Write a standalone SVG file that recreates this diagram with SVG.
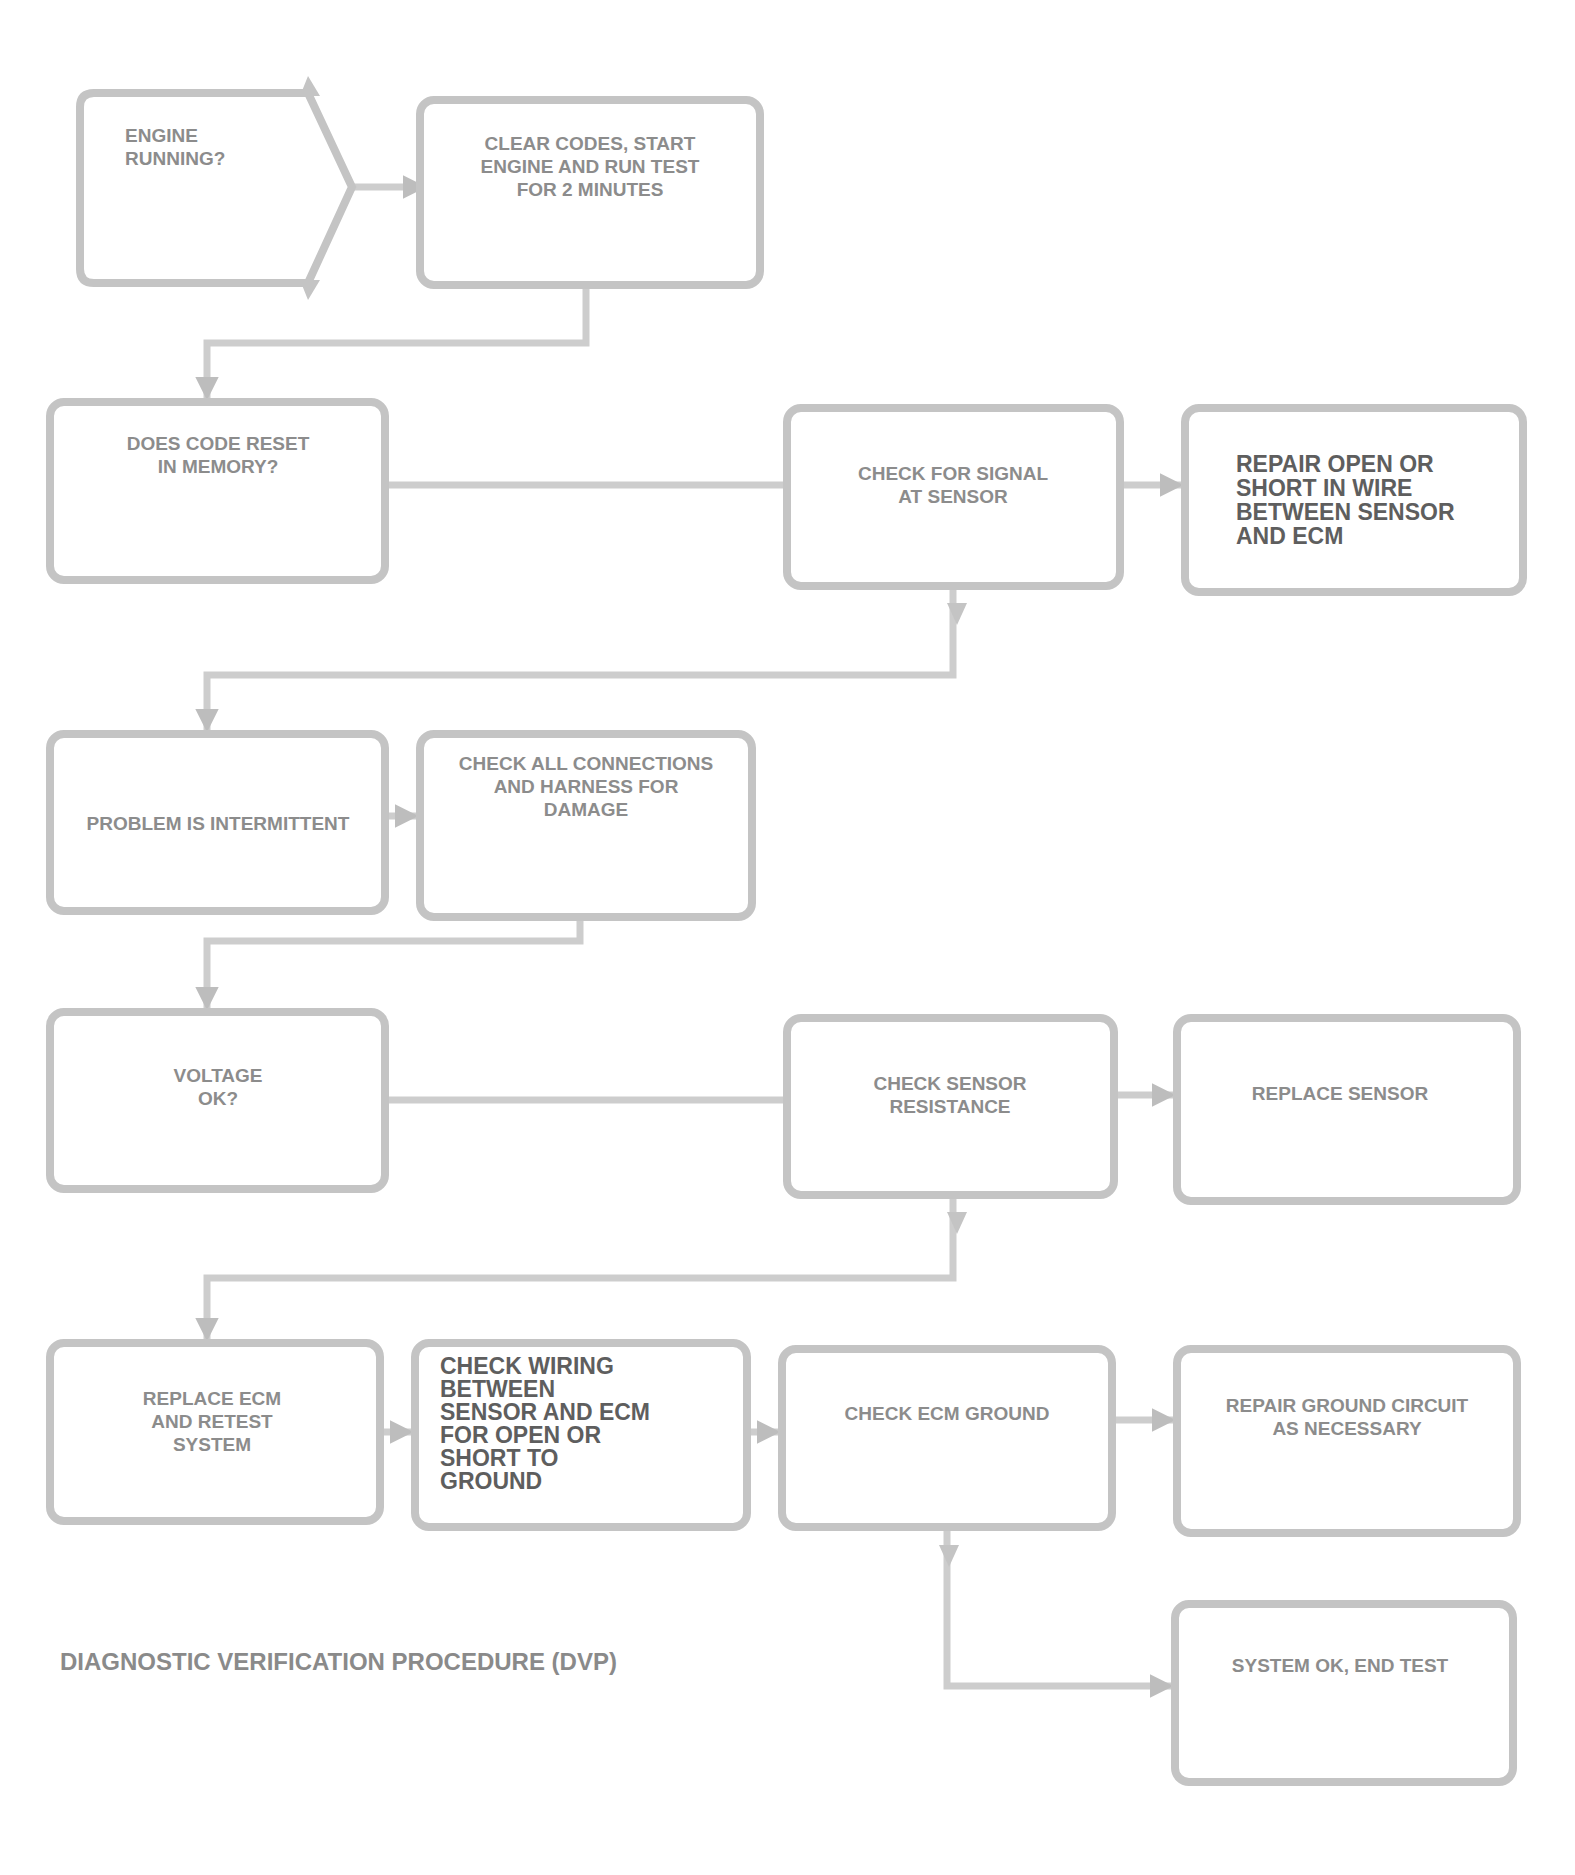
<svg xmlns="http://www.w3.org/2000/svg" width="1575" height="1875" viewBox="0 0 1575 1875">
<style>
.box{fill:#ffffff;stroke:#c4c4c4;stroke-width:8}
.ln{fill:none;stroke:#cdcdcd;stroke-width:7}
.t{font-family:"Liberation Sans",Arial,sans-serif;font-weight:bold;font-size:19px;fill:#8c8c8c;text-anchor:middle}
.tl{font-family:"Liberation Sans",Arial,sans-serif;font-weight:bold;font-size:19px;fill:#8c8c8c}
.td{font-family:"Liberation Sans",Arial,sans-serif;font-weight:bold;font-size:23px;fill:#5e5e5e}
.cap{font-family:"Liberation Sans",Arial,sans-serif;font-weight:bold;font-size:24px;fill:#8a8a8a}
</style>
<defs>
<marker id="ah" viewBox="0 0 10 10" refX="9" refY="5" markerWidth="3.4" markerHeight="3.4" orient="auto">
<path d="M0,0 L10,5 L0,10 z" fill="#bdbdbd"/>
</marker>
</defs>
<rect width="1575" height="1875" fill="#ffffff"/>
<g id="connectors">
<path class="ln" d="M350,187 H424" marker-end="url(#ah)"/>
<path class="ln" d="M586,285 V343 H207 V398" marker-end="url(#ah)"/>
<path class="ln" d="M385,485 H787"/>
<path class="ln" d="M1120,485 H1181" marker-end="url(#ah)"/>
<path class="ln" d="M953,586 V675 H207 V730" marker-end="url(#ah)"/>
<path class="ln" d="M385,816 H416" marker-end="url(#ah)"/>
<path class="ln" d="M580,917 V941 H207 V1008" marker-end="url(#ah)"/>
<path class="ln" d="M385,1100 H787"/>
<path class="ln" d="M1114,1095 H1173" marker-end="url(#ah)"/>
<path class="ln" d="M953,1195 V1278 H207 V1339" marker-end="url(#ah)"/>
<path class="ln" d="M380,1432 H411" marker-end="url(#ah)"/>
<path class="ln" d="M747,1432 H778" marker-end="url(#ah)"/>
<path class="ln" d="M1112,1420 H1173" marker-end="url(#ah)"/>
<path class="ln" d="M947,1527 V1686 H1171" marker-end="url(#ah)"/>
<path d="M947,603 L967,603 L957,625 z" fill="#c4c4c4"/>
<path d="M947,1212 L967,1212 L957,1234 z" fill="#c4c4c4"/>
<path d="M939,1545 L959,1545 L949,1567 z" fill="#c4c4c4"/>
</g>
<g id="nA">
<path class="box" d="M94,93 H308 L352,187 L308,283 H94 Q80,283 80,269 V107 Q80,93 94,93 z"/>
<path d="M308,76 L320,96 L300,96 z" fill="#c4c4c4"/>
<path d="M308,300 L320,280 L300,280 z" fill="#c4c4c4"/>
<text class="tl" x="125" y="142">ENGINE</text>
<text class="tl" x="125" y="165">RUNNING?</text>
</g>
<g id="nB">
<rect class="box" x="420" y="100" width="340" height="185" rx="14"/>
<text class="t" x="590" y="150">CLEAR CODES, START</text>
<text class="t" x="590" y="173">ENGINE AND RUN TEST</text>
<text class="t" x="590" y="196">FOR 2 MINUTES</text>
</g>
<g id="nC">
<rect class="box" x="50" y="402" width="335" height="178" rx="14"/>
<text class="t" x="218" y="450">DOES CODE RESET</text>
<text class="t" x="218" y="473">IN MEMORY?</text>
</g>
<g id="nD">
<rect class="box" x="787" y="408" width="333" height="178" rx="14"/>
<text class="t" x="953" y="480">CHECK FOR SIGNAL</text>
<text class="t" x="953" y="503">AT SENSOR</text>
</g>
<g id="nE">
<rect class="box" x="1185" y="408" width="338" height="184" rx="14"/>
<text class="td" x="1236" y="472">REPAIR OPEN OR</text>
<text class="td" x="1236" y="496">SHORT IN WIRE</text>
<text class="td" x="1236" y="520">BETWEEN SENSOR</text>
<text class="td" x="1236" y="544">AND ECM</text>
</g>
<g id="nF">
<rect class="box" x="50" y="734" width="335" height="177" rx="14"/>
<text class="t" x="218" y="830">PROBLEM IS INTERMITTENT</text>
</g>
<g id="nG">
<rect class="box" x="420" y="734" width="332" height="183" rx="14"/>
<text class="t" x="586" y="770">CHECK ALL CONNECTIONS</text>
<text class="t" x="586" y="793">AND HARNESS FOR</text>
<text class="t" x="586" y="816">DAMAGE</text>
</g>
<g id="nH">
<rect class="box" x="50" y="1012" width="335" height="177" rx="14"/>
<text class="t" x="218" y="1082">VOLTAGE</text>
<text class="t" x="218" y="1105">OK?</text>
</g>
<g id="nI">
<rect class="box" x="787" y="1018" width="327" height="177" rx="14"/>
<text class="t" x="950" y="1090">CHECK SENSOR</text>
<text class="t" x="950" y="1113">RESISTANCE</text>
</g>
<g id="nJ">
<rect class="box" x="1177" y="1018" width="340" height="183" rx="14"/>
<text class="t" x="1340" y="1100">REPLACE SENSOR</text>
</g>
<g id="nK">
<rect class="box" x="50" y="1343" width="330" height="178" rx="14"/>
<text class="t" x="212" y="1405">REPLACE ECM</text>
<text class="t" x="212" y="1428">AND RETEST</text>
<text class="t" x="212" y="1451">SYSTEM</text>
</g>
<g id="nL">
<rect class="box" x="415" y="1343" width="332" height="184" rx="14"/>
<text class="td" x="440" y="1374">CHECK WIRING</text>
<text class="td" x="440" y="1397">BETWEEN</text>
<text class="td" x="440" y="1420">SENSOR AND ECM</text>
<text class="td" x="440" y="1443">FOR OPEN OR</text>
<text class="td" x="440" y="1466">SHORT TO</text>
<text class="td" x="440" y="1489">GROUND</text>
</g>
<g id="nM">
<rect class="box" x="782" y="1349" width="330" height="178" rx="14"/>
<text class="t" x="947" y="1420">CHECK ECM GROUND</text>
</g>
<g id="nN">
<rect class="box" x="1177" y="1349" width="340" height="184" rx="14"/>
<text class="t" x="1347" y="1412">REPAIR GROUND CIRCUIT</text>
<text class="t" x="1347" y="1435">AS NECESSARY</text>
</g>
<g id="nO">
<rect class="box" x="1175" y="1604" width="338" height="178" rx="14"/>
<text class="t" x="1340" y="1672">SYSTEM OK, END TEST</text>
</g>
<g id="caption">
<text class="cap" x="60" y="1670">DIAGNOSTIC VERIFICATION PROCEDURE (DVP)</text>
</g>
</svg>
